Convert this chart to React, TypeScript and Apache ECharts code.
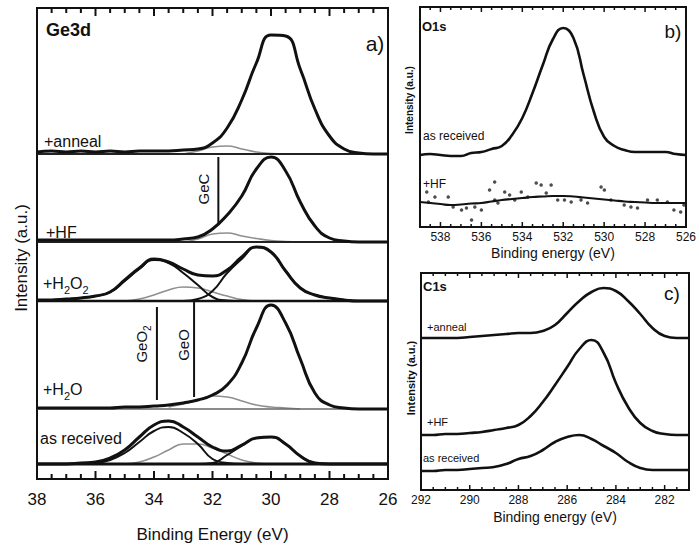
import React, { useEffect, useRef } from 'react';
import * as echarts from 'echarts';

const FONT = '"Liberation Sans", Arial, Helvetica, sans-serif';

// ---------- Panel a: Ge3d (binding energy, eV; heights above each baseline, a.u.) ----------
const geEnergy = [38, 37.5, 37, 36.5, 36, 35.5, 35, 34.5, 34, 33.5, 33, 32.5, 32, 31.5, 31, 30.5, 30, 29.5, 29, 28.5, 28, 27.5, 27, 26.5, 26];
const geTickMajor = [36, 34, 32, 30, 28];
const geTickMinor = [37.5, 37, 36.5, 35.5, 35, 34.5, 33.5, 33, 32.5, 31.5, 31, 30.5, 29.5, 29, 28.5, 27.5, 27, 26.5];
// baseline offsets of the stacked spectra
const offAnneal = 325;
const offHF = 237;
const offH2O2 = 178;
const offH2O = 70;
const offAsRec = 15;

const geAnneal = [2, 3, 2, 3, 2, 3, 2, 3, 3, 3, 4, 5, 11, 26, 54, 91, 119, 118, 85, 45, 18, 5, 1, 0, 0];
const geAnnealGray = [null, null, null, null, null, null, null, null, null, null, 0, 3, 7, 8, 5, 2, 0.5, 0, null, null, null, null, null, null, null];

const geHF = [2, 2, 2, 2, 2, 2, 2, 2, 2, 2, 3, 5, 13, 27, 46, 73, 85, 71, 40, 16, 4, 1, 0, 0, 0];
const geHFGray = [null, null, null, null, null, null, null, null, null, null, 0, 3, 8, 9, 6, 3.5, 1.5, 0.5, 0, null, null, null, null, null, null];

const geH2O2 = [1, 1, 2, 3, 5, 9, 21, 33, 42, 39, 32, 26, 25, 31, 44, 54, 49, 30, 13, 6, 3, 1, 0, 0, 0];
const geH2O2GeO2 = [1, 1, 2, 3, 5, 9, 20, 32, 41, 38, 28, 16, 4, 0.5, 0, null, null, null, null, null, null, null, null, null, null];
const geH2O2GeO = [null, null, null, null, null, null, 0, 2, 6, 11, 14, 13, 9, 5, 1.5, 0, null, null, null, null, null, null, null, null, null];
const geH2O2Ge = [null, null, null, null, null, null, null, null, null, null, 0, 2, 10, 28, 42, 54, 49, 30, 13, 6, 3, 1, 0, null, null];

const geH2O = [1, 1, 1, 1, 1, 1, 2, 2, 3, 4, 6, 9, 14, 24, 46, 81, 104, 86, 50, 16, 4, 1, 0, 0, 0];
const geH2OGray = [null, null, null, null, null, null, null, null, null, 2, 5, 9, 13, 12, 8, 4, 2, 1, 0, null, null, null, null, null, null];

const geAsRec = [0, 0, 0, 1, 2, 6, 14, 27, 39, 43, 37, 27, 17, 13, 19, 26, 27, 20, 8, 1, 0, 0, 0, 0, 0];
const geAsRecGeO2 = [null, null, null, null, 1, 4, 11, 22, 33, 37, 31, 20, 5, 1, 0, null, null, null, null, null, null, null, null, null, null];
const geAsRecGeO = [null, null, null, null, null, null, 0, 2, 7, 14, 20, 20, 16, 10, 4, 1, 0, null, null, null, null, null, null, null, null];
const geAsRecGe = [null, null, null, null, null, null, null, null, null, null, null, 0, 1, 9, 18, 26, 27, 20, 8, 1, 0, null, null, null, null];

// reference markers (energy, from, to)
const markGeC = [31.8, 256, 322];
const markGeO2 = [33.9, 79, 172];
const markGeO = [32.63, 82, 179];

// ---------- Panel b: O1s ----------
const o1sEnergy = [539, 538.5, 538, 537.5, 537, 536.5, 536, 535.5, 535, 534.5, 534, 533.5, 533, 532.5, 532, 531.5, 531, 530.5, 530, 529.5, 529, 528.5, 528, 527.5, 527, 526.5, 526];
const o1sTickMajor = [538, 536, 534, 532, 530, 528];
const o1sTickMinor = [538.5, 537.5, 537, 536.5, 535.5, 535, 534.5, 533.5, 533, 532.5, 531.5, 531, 530.5, 529.5, 529, 528.5, 527.5, 527, 526.5];
const offO1sAsRec = 72;
const offO1sHF = 24;
const o1sAsRec = [0, 1, 0, -1, -1, 2, 3, 6, 9, 20, 37, 62, 90, 116, 127, 117, 80, 43, 18, 9, 5, 3, 3, 3, 3, 1, 0];
const o1sHFFit = [1, 0, -1, -2, -1.5, -0.5, 0, 1.5, 3, 4, 5, 6, 6.5, 7, 7, 6.5, 5.5, 4.5, 3.5, 2.5, 1.5, 1, 0.5, 0, 0, 0, 0];
const o1sHFDotE = [538.67, 538.59, 538.27, 537.62, 537.38, 536.97, 536.73, 536.48, 536.32, 536.0, 535.6, 535.35, 535.35, 535.19, 534.86, 534.62, 534.37, 534.05, 533.73, 533.32, 533.08, 532.83, 532.59, 532.27, 531.94, 531.61, 531.13, 530.81, 530.15, 529.99, 529.67, 529.02, 528.69, 528.37, 527.88, 527.4, 526.91, 526.59, 526.26, 526.1];
const o1sHFDotH = [11, 1, 6, 6, -4, -7, -5, -17, -4, -7, 13, 21, 3, 0, 11, 8, 3, 11, 6, 20, 18, 10, 18, 3, 3, 1, 3, 0, 16, 13, 3, -2, -4, -5, 3, 3, 1, -7, -9, -2];

// ---------- Panel c: C1s ----------
const c1sEnergy = [292, 291.5, 291, 290.5, 290, 289.5, 289, 288.5, 288, 287.5, 287, 286.5, 286, 285.5, 285, 284.5, 284, 283.5, 283, 282.5, 282, 281.5, 281];
const c1sTickMajor = [290, 288, 286, 284, 282];
const c1sTickMinor = [291.5, 291, 290.5, 289.5, 289, 288.5, 287.5, 287, 286.5, 285.5, 285, 284.5, 283.5, 283, 282.5, 281.5];
const offC1sAnneal = 152;
const offC1sHF = 55;
const offC1sAsRec = 20;
const c1sAnneal = [0, 0, 0, 0, 1, 2, 3, 4, 5, 5, 7, 13, 25, 37, 46, 50, 47, 37, 24, 10, 2, 0, 0];
const c1sHF = [0, 0, 1, 1, 2, 3, 5, 7, 10, 19, 33, 50, 68, 86, 95, 82, 52, 28, 12, 4, 1, 0, 0];
const c1sAsRec = [-1, -1, 0, 0, 1, 2, 3, 6, 11, 14, 20, 28, 33, 35, 31, 24, 17, 8, 2, 0, 0, 0, 0];

function pts(xs: number[], ys: (number | null)[], off: number) {
  const out: number[][] = [];
  xs.forEach((x, i) => {
    const y = ys[i];
    if (y !== null && y !== undefined) out.push([x, off + y]);
  });
  return out;
}

function line(xi: number, yi: number, data: any[], color: string, width: number, z = 2, smooth: number | boolean = 0.5) {
  return {
    type: 'line', xAxisIndex: xi, yAxisIndex: yi, data, symbol: 'none', smooth,
    lineStyle: { color, width }, silent: true, z,
  };
}

function xAxis(grid: number, min: number, max: number, pos: 'top' | 'bottom', o: any) {
  const ax: any = {
    type: 'value', gridIndex: grid, min, max, inverse: true, position: pos,
    axisLine: { show: true, onZero: false, lineStyle: { color: '#111', width: 2 } },
    axisTick: { show: false },
    minorTick: { show: false },
    axisLabel: {
      show: pos === 'bottom', fontSize: o.fs, color: '#111', margin: o.margin, fontFamily: FONT,
      showMinLabel: o.showMin, showMaxLabel: o.showMax,
    },
    splitLine: { show: false },
    minorSplitLine: { show: false },
    nameLocation: 'middle', nameGap: o.nameGap,
    nameTextStyle: { fontSize: o.nameSize, color: '#111', fontFamily: FONT },
  };
  if (o.interval) ax.interval = o.interval;
  if (o.splitNumber) ax.splitNumber = o.splitNumber;
  if (pos === 'bottom') ax.name = o.name;
  return ax;
}

function txt(x: number, y: number, text: string, size: number, o: any = {}) {
  const style: any = {
    text, fontSize: size, fontFamily: FONT, fontWeight: o.bold ? 'bold' : 'normal', fill: '#111',
    align: o.align || 'left', verticalAlign: 'middle',
  };
  if (o.lh) style.lineHeight = o.lh;
  if (o.rich) style.rich = o.rich;
  return { type: 'text', x, y, rotation: o.rot || 0, silent: true, z: 10, style };
}

export default function App() {
  const ref = useRef<HTMLDivElement>(null);
  useEffect(() => {
    document.body.style.margin = '0';
    const chart = echarts.init(ref.current!, undefined, { renderer: 'svg' });
    const aOpt = { interval: 2, fs: 17, margin: 12, name: 'Binding Energy (eV)', nameGap: 47, nameSize: 17, showMin: true, showMax: true };
    const bOpt = { interval: 2, fs: 12, margin: 4, name: 'Binding energy (eV)', nameGap: 19, nameSize: 14, showMin: true, showMax: false };
    const cOpt = { splitNumber: 5, fs: 12, margin: 4, name: 'Binding energy (eV)', nameGap: 20, nameSize: 14, showMin: false, showMax: true };

    const baseA = (off: number, color: string, width: number) => line(0, 0, [[38, off], [26, off]], color, width, 3, false);
    const mark = (m: number[]) => line(0, 0, [[m[0], m[1]], [m[0], m[2]]], '#111', 2, 4, false);

    const sub = { fontSize: 11, verticalAlign: 'bottom', lineHeight: 24, fontFamily: FONT, fill: '#111' };
    const subR = { fontSize: 10, verticalAlign: 'bottom', lineHeight: 22, fontFamily: FONT, fill: '#111' };

    const textEls: any[] = [
      // panel a
      txt(21, 258, 'Intensity (a.u.)', 17, { rot: Math.PI / 2, align: 'center' }),
      txt(46, 30, 'Ge3d', 18, { bold: true }),
      txt(375, 43, 'a)', 21, { align: 'center' }),
      txt(44, 141, '+anneal', 16),
      txt(46, 232, '+HF', 16),
      txt(43, 283, '+H{s|2}O{s|2}', 16, { lh: 24, rich: { s: sub } }),
      txt(43, 389, '+H{s|2}O', 16, { lh: 24, rich: { s: sub } }),
      txt(40, 438, 'as received', 16),
      txt(203, 189, 'GeC', 15, { rot: Math.PI / 2, align: 'center' }),
      txt(141, 344, 'GeO{s|2}', 15, { rot: Math.PI / 2, align: 'center', lh: 22, rich: { s: subR } }),
      txt(183, 345, 'GeO', 15, { rot: Math.PI / 2, align: 'center' }),
      // panel b
      txt(409, 100, 'Intensity (a.u.)', 10, { rot: Math.PI / 2, align: 'center', bold: true }),
      txt(422, 26, 'O1s', 13, { bold: true }),
      txt(673, 31, 'b)', 19, { align: 'center' }),
      txt(423, 136, 'as received', 12),
      txt(423, 184, '+HF', 12),
      // panel c
      txt(411, 378, 'Intensity (a.u.)', 11, { rot: Math.PI / 2, align: 'center', bold: true }),
      txt(423, 286, 'C1s', 13, { bold: true }),
      txt(672, 293, 'c)', 19, { align: 'center' }),
      txt(427, 327, '+anneal', 11),
      txt(427, 422, '+HF', 11),
      txt(423, 458, 'as received', 11),
    ];

    const option: any = {
      animation: false,
      backgroundColor: '#fff',
      grid: [
        { left: 37, top: 8, width: 351, height: 471, show: true, borderColor: '#111', borderWidth: 2 },
        { left: 420, top: 7, width: 267, height: 220, show: true, borderColor: '#111', borderWidth: 2 },
        { left: 421, top: 273, width: 268, height: 217, show: true, borderColor: '#111', borderWidth: 2 },
      ],
      xAxis: [
        xAxis(0, 26, 38, 'bottom', aOpt), xAxis(0, 26, 38, 'top', aOpt),
        xAxis(1, 526, 539, 'bottom', bOpt), xAxis(1, 526, 539, 'top', bOpt),
        xAxis(2, 281, 292, 'bottom', cOpt), xAxis(2, 281, 292, 'top', cOpt),
      ],
      yAxis: [
        { type: 'value', gridIndex: 0, min: 0, max: 471, show: false },
        { type: 'value', gridIndex: 1, min: 0, max: 220, show: false },
        { type: 'value', gridIndex: 2, min: 0, max: 217, show: false },
      ],
      series: [
        // panel a gray components
        line(0, 0, pts(geEnergy, geAnnealGray, offAnneal), '#8f8f8f', 1.6, 2),
        line(0, 0, pts(geEnergy, geHFGray, offHF), '#8f8f8f', 1.6, 2),
        line(0, 0, pts(geEnergy, geH2O2GeO, offH2O2), '#8f8f8f', 1.6, 2),
        line(0, 0, pts(geEnergy, geH2OGray, offH2O), '#8f8f8f', 1.6, 2),
        line(0, 0, pts(geEnergy, geAsRecGeO, offAsRec), '#8f8f8f', 1.6, 2),
        // baselines / separators
        baseA(offAnneal, '#222', 2),
        baseA(offHF, '#222', 2),
        baseA(offH2O2, '#111', 2.5),
        baseA(offH2O, '#666', 1.5),
        baseA(offAsRec, '#111', 3),
        // black components
        line(0, 0, pts(geEnergy, geH2O2GeO2, offH2O2), '#111', 2, 4),
        line(0, 0, pts(geEnergy, geH2O2Ge, offH2O2), '#111', 2, 4),
        line(0, 0, pts(geEnergy, geAsRecGeO2, offAsRec), '#111', 2, 4),
        line(0, 0, pts(geEnergy, geAsRecGe, offAsRec), '#111', 2, 4),
        // envelopes
        line(0, 0, pts(geEnergy, geAnneal, offAnneal), '#111', 3, 5),
        line(0, 0, pts(geEnergy, geHF, offHF), '#111', 3, 5),
        line(0, 0, pts(geEnergy, geH2O2, offH2O2), '#111', 3, 5),
        line(0, 0, pts(geEnergy, geH2O, offH2O), '#111', 3, 5),
        line(0, 0, pts(geEnergy, geAsRec, offAsRec), '#111', 3, 5),
        // markers
        mark(markGeC), mark(markGeO2), mark(markGeO),
        // panel b
        line(2, 1, pts(o1sEnergy, o1sAsRec, offO1sAsRec), '#111', 2.6, 5),
        line(2, 1, pts(o1sEnergy, o1sHFFit, offO1sHF), '#111', 2.2, 5),
        {
          type: 'scatter', xAxisIndex: 2, yAxisIndex: 1, symbolSize: 3.5, silent: true, z: 4,
          itemStyle: { color: '#222' },
          data: o1sHFDotE.map((e, i) => [e, offO1sHF + o1sHFDotH[i]]),
        },
        // panel c
        line(4, 2, pts(c1sEnergy, c1sAnneal, offC1sAnneal), '#111', 2.6, 5),
        line(4, 2, pts(c1sEnergy, c1sHF, offC1sHF), '#111', 2.6, 5),
        line(4, 2, pts(c1sEnergy, c1sAsRec, offC1sAsRec), '#111', 2.6, 5),
      ],
      graphic: textEls,
    };
    chart.setOption(option);

    // inward ticks on top and bottom edges, positioned through each panel's x scale
    const tickSpecs = [
      { xi: 0, yi: 0, major: geTickMajor, minor: geTickMinor, yMax: 471, maj: 8, mn: 5, w: 2 },
      { xi: 2, yi: 1, major: o1sTickMajor, minor: o1sTickMinor, yMax: 220, maj: 5, mn: 3, w: 1.5 },
      { xi: 4, yi: 2, major: c1sTickMajor, minor: c1sTickMinor, yMax: 217, maj: 5, mn: 3, w: 1.5 },
    ];
    const tickEls: any[] = [];
    tickSpecs.forEach((s) => {
      const add = (v: number, len: number) => {
        const b = chart.convertToPixel({ xAxisIndex: s.xi, yAxisIndex: s.yi } as any, [v, 0]) as any;
        const t = chart.convertToPixel({ xAxisIndex: s.xi, yAxisIndex: s.yi } as any, [v, s.yMax]) as any;
        if (!b || !t) return;
        tickEls.push({ type: 'rect', z: 20, silent: true, shape: { x: b[0] - s.w / 2, y: b[1] - len, width: s.w, height: len }, style: { fill: '#111' } });
        tickEls.push({ type: 'rect', z: 20, silent: true, shape: { x: t[0] - s.w / 2, y: t[1], width: s.w, height: len }, style: { fill: '#111' } });
      };
      s.major.forEach((v) => add(v, s.maj));
      s.minor.forEach((v) => add(v, s.mn));
    });
    chart.setOption({ graphic: textEls.concat(tickEls) });

    return () => chart.dispose();
  }, []);
  return <div ref={ref} style={{ width: 699, height: 549 }} />;
}
